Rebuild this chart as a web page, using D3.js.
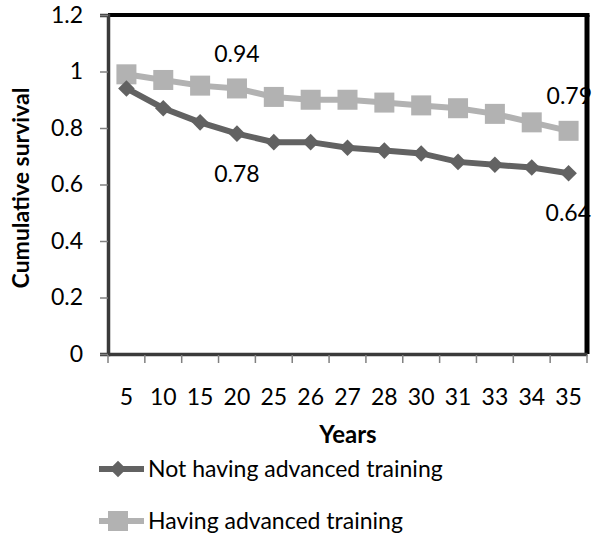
<!DOCTYPE html>
<html><head><meta charset="utf-8">
<script src="https://cdn.jsdelivr.net/npm/d3@7/dist/d3.min.js"></script>
<style>body{margin:0;background:#fff}svg{display:block}text{font-family:Lato,"Open Sans",sans-serif}</style>
</head><body><svg id="c" width="600" height="539"></svg>
<script>
const years = ["5","10","15","20","25","26","27","28","30","31","33","34","35"];
const notAdvanced = [0.94,0.87,0.82,0.78,0.75,0.75,0.73,0.72,0.71,0.68,0.67,0.66,0.64];
const advanced = [0.99,0.97,0.95,0.94,0.91,0.90,0.90,0.89,0.88,0.87,0.85,0.82,0.79];
const yTicks = [0,0.2,0.4,0.6,0.8,1,1.2];
const seriesNames = ["Not having advanced training","Having advanced training"];
const colors = ["#626262","#b2b2b2"];

const svg = d3.select("#c");
const L=108, R=587, T=15, B=354;
const x = d3.scaleBand().domain(years).range([L,R]);
const y = d3.scaleLinear().domain([0,1.2]).range([B,T]);
const cx = i => x(years[i]) + x.bandwidth()/2;
const FS = 23;

// data labels (drawn first, under the border)
const lblG = svg.append("g");
[[advanced,3,0,-26,"middle"],[notAdvanced,3,0,48,"middle"],[advanced,12,-22,-27,"start"],[notAdvanced,12,-23,48,"start"]].forEach(([s,i,dx,dy,anc])=>{
  lblG.append("text").attr("x",cx(i)+dx).attr("y",y(s[i])+dy)
   .attr("text-anchor",anc).attr("font-size",FS).text(s[i].toFixed(2));
});

const line = d3.line().x((d,i)=>cx(i)).y(d=>y(d));
const diamond = d3.symbol().type(d3.symbolDiamond2).size(175);

// series 1 (squares)
svg.append("path").datum(advanced).attr("d",line).attr("fill","none").attr("stroke",colors[1]).attr("stroke-width",6);
svg.append("g").selectAll("rect").data(advanced).join("rect")
  .attr("x",(d,i)=>cx(i)-10).attr("y",d=>y(d)-10)
  .attr("width",20).attr("height",20).attr("fill",colors[1]);
// series 0 (diamonds)
svg.append("path").datum(notAdvanced).attr("d",line).attr("fill","none").attr("stroke",colors[0]).attr("stroke-width",6);
svg.append("g").selectAll("path").data(notAdvanced).join("path")
  .attr("transform",(d,i)=>`translate(${cx(i)},${y(d)})`)
  .attr("d",diamond).attr("fill",colors[0]);

// borders
svg.append("line").attr("x1",L).attr("x2",R+2.5).attr("y1",T).attr("y2",T).attr("stroke","#000").attr("stroke-width",4);
svg.append("line").attr("x1",R).attr("x2",R).attr("y1",T).attr("y2",B).attr("stroke","#000").attr("stroke-width",5);

// y axis
const ya = svg.append("g").attr("transform",`translate(${L},0)`)
  .call(d3.axisLeft(y).tickValues(yTicks).tickFormat(d=>String(d)).tickSize(8).tickPadding(17));
ya.select(".domain").attr("stroke","#3a3a3a").attr("stroke-width",3.5);
ya.selectAll(".tick line").attr("stroke","#808080").attr("stroke-width",1.5);
ya.selectAll("text").attr("font-size",FS).attr("fill","#000");

// x axis
const xa = svg.append("g").attr("transform",`translate(0,${B})`)
  .call(d3.axisBottom(x).tickSize(0).tickPadding(35));
xa.select(".domain").attr("stroke","#3a3a3a").attr("stroke-width",3.5);
xa.selectAll("text").attr("font-size",FS).attr("fill","#000");
const bounds = years.map(d=>x(d)).concat([R]);
svg.append("g").selectAll("line").data(bounds).join("line")
  .attr("x1",d=>d).attr("x2",d=>d).attr("y1",B+1).attr("y2",B+9)
  .attr("stroke","#808080").attr("stroke-width",1.5);

// titles
svg.append("text").attr("transform",`translate(29,188) rotate(-90)`).attr("text-anchor","middle")
  .attr("font-size",23).attr("font-weight","bold").text("Cumulative survival");
svg.append("text").attr("x",348).attr("y",443).attr("text-anchor","middle")
  .attr("font-size",24).attr("font-weight","bold").text("Years");

// legend
const lg = svg.append("g");
[0,1].forEach(k=>{
  const ly = 469 + k*52;
  lg.append("line").attr("x1",99).attr("x2",144).attr("y1",ly).attr("y2",ly).attr("stroke",colors[k]).attr("stroke-width",6);
  if(k===0) lg.append("path").attr("transform",`translate(118,${ly})`).attr("d",diamond).attr("fill",colors[0]);
  else lg.append("rect").attr("x",108).attr("y",ly-10).attr("width",20).attr("height",20).attr("fill",colors[1]);
  lg.append("text").attr("x",148).attr("y",ly+8).attr("font-size",FS).text(seriesNames[k]);
});
</script></body></html>
